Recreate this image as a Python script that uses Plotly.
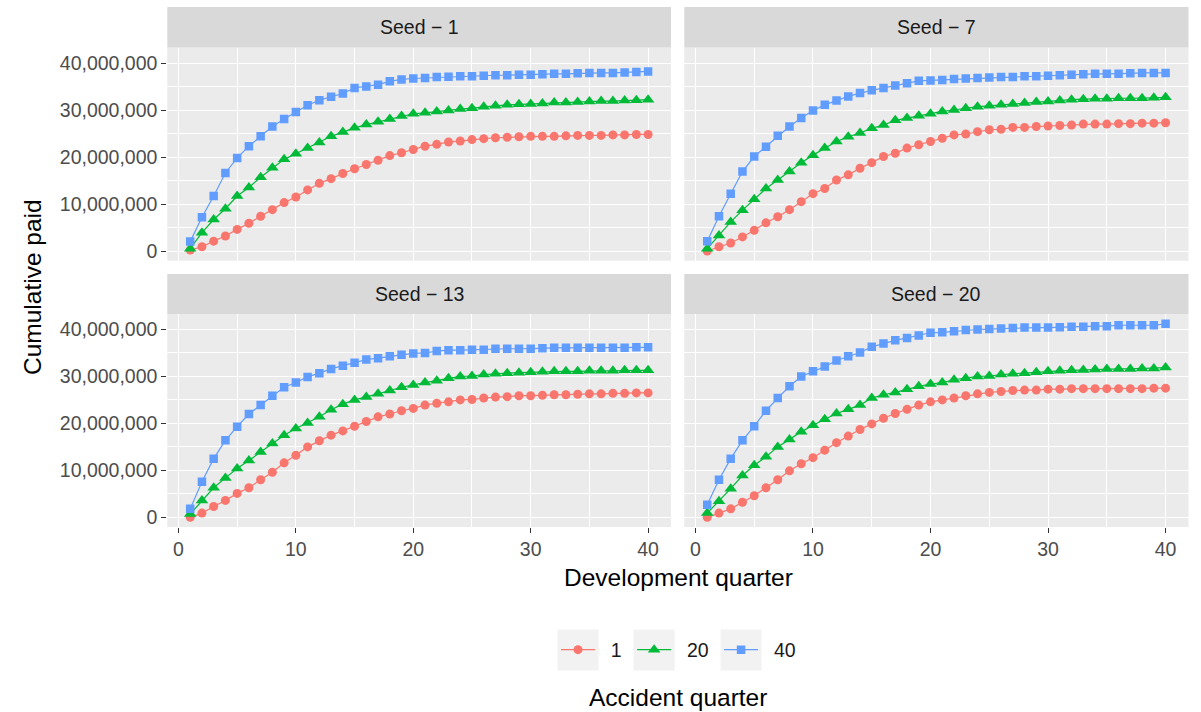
import plotly.graph_objects as go

# ---------------- data (cumulative paid, in millions) ----------------
dev_quarter = list(range(1, 41))
accident_quarters = ["1", "20", "40"]
seed_labels = ["Seed \u2212 1", "Seed \u2212 7", "Seed \u2212 13", "Seed \u2212 20"]

seed1_aq1 = [0.2, 0.9, 2.1, 3.2, 4.6, 5.9, 7.4, 8.8, 10.3, 11.5, 13.0, 14.4, 15.4, 16.5, 17.5, 18.4, 19.3, 20.3, 20.9, 21.6,
             22.3, 22.7, 23.2, 23.4, 23.7, 23.9, 24.1, 24.2, 24.3, 24.4, 24.4, 24.4, 24.5, 24.6, 24.6, 24.6, 24.7, 24.7, 24.8, 24.8]
seed1_aq20 = [0.5, 3.9, 6.7, 9.0, 11.7, 13.5, 15.7, 17.7, 19.5, 20.7, 21.9, 23.1, 24.4, 25.3, 26.2, 26.9, 27.5, 28.1, 28.7, 29.2,
              29.4, 29.7, 29.9, 30.2, 30.4, 30.7, 30.9, 31.1, 31.2, 31.3, 31.4, 31.6, 31.6, 31.7, 31.8, 31.9, 31.9, 32.0, 32.1, 32.2]
seed1_aq40 = [2.0, 7.2, 11.7, 16.6, 19.8, 22.3, 24.4, 26.5, 28.1, 29.6, 31.0, 32.1, 32.8, 33.5, 34.7, 35.0, 35.4, 36.1, 36.5, 36.7,
              36.8, 37.0, 37.1, 37.2, 37.2, 37.3, 37.4, 37.4, 37.5, 37.5, 37.6, 37.7, 37.7, 37.8, 37.9, 37.9, 37.9, 38.0, 38.1, 38.2]

seed7_aq1 = [0.0, 0.9, 1.7, 3.0, 4.4, 6.0, 7.3, 8.8, 10.5, 12.2, 13.3, 15.1, 16.2, 17.6, 18.8, 20.1, 20.8, 21.9, 22.6, 23.3,
             24.0, 24.7, 24.9, 25.4, 25.8, 25.9, 26.3, 26.3, 26.5, 26.6, 26.7, 26.8, 27.0, 27.0, 27.0, 27.1, 27.1, 27.2, 27.2, 27.3]
seed7_aq20 = [0.5, 3.3, 6.2, 8.7, 11.0, 13.3, 15.1, 16.9, 18.8, 20.4, 21.9, 23.3, 24.3, 25.1, 26.1, 26.8, 27.8, 28.3, 28.8, 29.2,
              29.7, 30.0, 30.4, 30.7, 30.9, 31.1, 31.3, 31.5, 31.7, 31.8, 32.0, 32.2, 32.3, 32.4, 32.4, 32.5, 32.5, 32.5, 32.6, 32.7]
seed7_aq40 = [2.1, 7.4, 12.2, 16.9, 20.1, 22.2, 24.5, 26.5, 28.3, 29.9, 31.1, 32.0, 32.9, 33.6, 34.2, 34.7, 35.2, 35.7, 36.2, 36.3,
              36.4, 36.6, 36.7, 36.8, 36.9, 37.0, 37.0, 37.2, 37.2, 37.3, 37.4, 37.5, 37.6, 37.7, 37.7, 37.7, 37.8, 37.9, 37.9, 37.9]

seed13_aq1 = [0.0, 0.9, 2.3, 3.6, 5.1, 6.3, 8.0, 9.6, 11.6, 13.2, 15.0, 16.3, 17.5, 18.4, 19.4, 20.4, 21.4, 22.0, 22.7, 23.2,
              23.9, 24.3, 24.6, 25.0, 25.1, 25.4, 25.6, 25.7, 25.9, 25.9, 26.0, 26.1, 26.1, 26.2, 26.3, 26.3, 26.4, 26.4, 26.5, 26.5]
seed13_aq20 = [0.7, 3.6, 6.3, 8.4, 10.4, 12.1, 13.9, 15.7, 17.5, 18.9, 20.1, 21.4, 22.9, 24.1, 25.0, 25.6, 26.3, 27.0, 27.7, 28.2,
               28.7, 29.1, 29.6, 30.0, 30.1, 30.4, 30.6, 30.7, 30.8, 30.9, 31.0, 31.1, 31.1, 31.1, 31.2, 31.2, 31.2, 31.3, 31.3, 31.3]
seed13_aq40 = [1.8, 7.6, 12.5, 16.4, 19.3, 22.0, 23.9, 25.9, 27.7, 28.7, 29.9, 30.7, 31.6, 32.3, 32.9, 33.6, 33.9, 34.3, 34.6, 34.9,
               35.0, 35.4, 35.6, 35.6, 35.7, 35.7, 35.9, 35.9, 35.9, 35.9, 36.0, 36.1, 36.1, 36.1, 36.1, 36.1, 36.1, 36.1, 36.2, 36.2]

seed20_aq1 = [0.0, 0.9, 1.8, 3.2, 4.6, 6.3, 8.0, 9.9, 11.4, 12.7, 14.3, 15.9, 17.3, 18.7, 19.9, 21.1, 22.1, 23.0, 23.9, 24.6,
              25.0, 25.4, 25.9, 26.3, 26.6, 26.8, 27.0, 27.1, 27.1, 27.3, 27.3, 27.4, 27.4, 27.4, 27.4, 27.4, 27.4, 27.4, 27.5, 27.5]
seed20_aq20 = [0.9, 3.4, 6.1, 8.9, 11.1, 12.9, 15.0, 16.6, 18.2, 19.6, 20.9, 22.1, 23.0, 23.9, 25.4, 26.1, 26.6, 27.3, 27.9, 28.4,
               28.7, 29.3, 29.6, 30.0, 30.1, 30.4, 30.6, 30.7, 30.9, 31.1, 31.2, 31.3, 31.4, 31.5, 31.6, 31.6, 31.6, 31.7, 31.7, 31.9]
seed20_aq40 = [2.7, 8.0, 12.5, 16.4, 19.4, 22.7, 25.4, 27.9, 30.0, 31.1, 32.1, 33.4, 34.3, 35.1, 36.3, 37.0, 37.7, 38.2, 38.7, 39.3,
               39.4, 39.6, 39.9, 40.0, 40.1, 40.2, 40.3, 40.4, 40.4, 40.4, 40.5, 40.6, 40.6, 40.7, 40.7, 40.9, 40.9, 40.9, 40.9, 41.2]

y_tick_vals = [0, 10_000_000, 20_000_000, 30_000_000, 40_000_000]
x_tick_vals = [0, 10, 20, 30, 40]

panels = [
    (seed1_aq1, seed1_aq20, seed1_aq40),
    (seed7_aq1, seed7_aq20, seed7_aq40),
    (seed13_aq1, seed13_aq20, seed13_aq40),
    (seed20_aq1, seed20_aq20, seed20_aq40),
]

# ---------------- style ----------------
W, H = 1201, 712
FONT = "Liberation Sans, Arial, sans-serif"
colors = ["#F8766D", "#00BA38", "#619CFF"]
symbols = ["circle", "triangle-up", "square"]
msizes = [9, 11, 8.5]

def px_x(a, b):
    return [a / W, b / W]

def px_y(top, bottom):
    return [1 - bottom / H, 1 - top / H]

x_doms = [px_x(167.3, 671), px_x(684.3, 1188.5)]
y_doms = [px_y(47.5, 260.7), px_y(314, 527)]
strip_y = [px_y(7, 47.5), px_y(274, 314)]

NBSP = "\u00a0"
fig = go.Figure()

for p, series in enumerate(panels):
    ax = "" if p == 0 else str(p + 1)
    for s, vals in enumerate(series):
        fig.add_trace(go.Scatter(
            x=dev_quarter, y=[v * 1_000_000 for v in vals],
            mode="lines+markers",
            xaxis="x" + ax, yaxis="y" + ax,
            name=NBSP * 2 + accident_quarters[s] + NBSP, legendgroup=accident_quarters[s],
            showlegend=(p == 0),
            line=dict(color=colors[s], width=1.2),
            marker=dict(color=colors[s], symbol=symbols[s], size=msizes[s], line=dict(width=0)),
        ))

# legend geometry (plotly legend: symbol centred at (itemwidth+10)/2, text at itemwidth+10)
LEG_ITEMW = 34
LEG_LEFT = 556.0
LEG_YC = 650.0
FS_LEG = 19.5
char_w = {"1": 0.556, "2": 0.556, "0": 0.556, "4": 0.556}
centers = []
cx = LEG_LEFT
for aq in accident_quarters:
    centers.append(cx + (LEG_ITEMW + 10) / 2)
    tw = sum(char_w[c] for c in aq) * FS_LEG + 3 * 0.278 * FS_LEG
    cx += LEG_ITEMW + 10 + tw + 5

layout = dict(
    width=W, height=H,
    margin=dict(l=0, r=0, t=0, b=0),
    paper_bgcolor="white", plot_bgcolor="#EBEBEB",
    font=dict(family=FONT, size=19, color="#4D4D4D"),
    showlegend=True,
    legend=dict(orientation="h", x=LEG_LEFT / W, xanchor="left", y=1 - LEG_YC / H, yanchor="middle",
                font=dict(size=FS_LEG, color="#1A1A1A"), bgcolor="rgba(0,0,0,0)",
                itemwidth=LEG_ITEMW, traceorder="normal"),
)

for p in range(4):
    col, row = p % 2, p // 2
    xk = "xaxis" if p == 0 else f"xaxis{p+1}"
    yk = "yaxis" if p == 0 else f"yaxis{p+1}"
    anchor_x = "y" if p == 0 else f"y{p+1}"
    anchor_y = "x" if p == 0 else f"x{p+1}"
    layout[xk] = dict(
        domain=x_doms[col], anchor=anchor_x, range=[-0.95, 41.95],
        tickvals=x_tick_vals, showticklabels=(row == 1),
        ticks="outside" if row == 1 else "", ticklen=5, tickwidth=1.1, tickcolor="#333333",
        tickfont=dict(size=19.5, color="#4D4D4D"),
        showgrid=True, gridcolor="white", gridwidth=1.3, zeroline=False, showline=False,
        minor=dict(dtick=5, tick0=0, showgrid=True, gridcolor="white", gridwidth=0.6),
        fixedrange=True,
    )
    layout[yk] = dict(
        domain=y_doms[row], anchor=anchor_y, range=[-2_060_000, 43_300_000],
        tickvals=y_tick_vals, tickformat=",d", showticklabels=(col == 0),
        ticks="outside" if col == 0 else "", ticklen=5, tickwidth=1.1, tickcolor="#333333",
        tickfont=dict(size=19.5, color="#4D4D4D"),
        showgrid=True, gridcolor="white", gridwidth=1.3, zeroline=False, showline=False,
        minor=dict(dtick=5_000_000, tick0=0, showgrid=True, gridcolor="white", gridwidth=0.6),
        fixedrange=True,
    )

shapes = []
annotations = []
for p in range(4):
    col, row = p % 2, p // 2
    shapes.append(dict(type="rect", xref="paper", yref="paper",
                       x0=x_doms[col][0], x1=x_doms[col][1], y0=strip_y[row][0], y1=strip_y[row][1],
                       fillcolor="#D9D9D9", line=dict(width=0), layer="below"))
    annotations.append(dict(text=seed_labels[p], xref="paper", yref="paper",
                            x=sum(x_doms[col]) / 2, y=sum(strip_y[row]) / 2,
                            xanchor="center", yanchor="middle", showarrow=False,
                            font=dict(size=19.5, color="#1A1A1A")))

# grey legend key backgrounds
for c in centers:
    shapes.append(dict(type="rect", xref="paper", yref="paper",
                       x0=(c - 20.5) / W, x1=(c + 20.5) / W,
                       y0=1 - (LEG_YC + 20.5) / H, y1=1 - (LEG_YC - 20.5) / H,
                       fillcolor="#F2F2F2", line=dict(width=0), layer="below"))

annotations.append(dict(text="Development quarter", xref="paper", yref="paper",
                        x=678.5 / W, y=1 - 577 / H, xanchor="center", yanchor="middle",
                        showarrow=False, font=dict(size=24.5, color="#000000")))
annotations.append(dict(text="Cumulative paid", xref="paper", yref="paper",
                        x=33 / W, y=1 - 287 / H, xanchor="center", yanchor="middle", textangle=-90,
                        showarrow=False, font=dict(size=24.5, color="#000000")))
annotations.append(dict(text="Accident quarter", xref="paper", yref="paper",
                        x=678 / W, y=1 - 697 / H, xanchor="center", yanchor="middle",
                        showarrow=False, font=dict(size=24.5, color="#000000")))

layout["shapes"] = shapes
layout["annotations"] = annotations
fig.update_layout(**layout)

fig.write_html("out.html", config={"displayModeBar": False},
               post_script="document.body.style.margin='0';document.body.style.padding='0';")
